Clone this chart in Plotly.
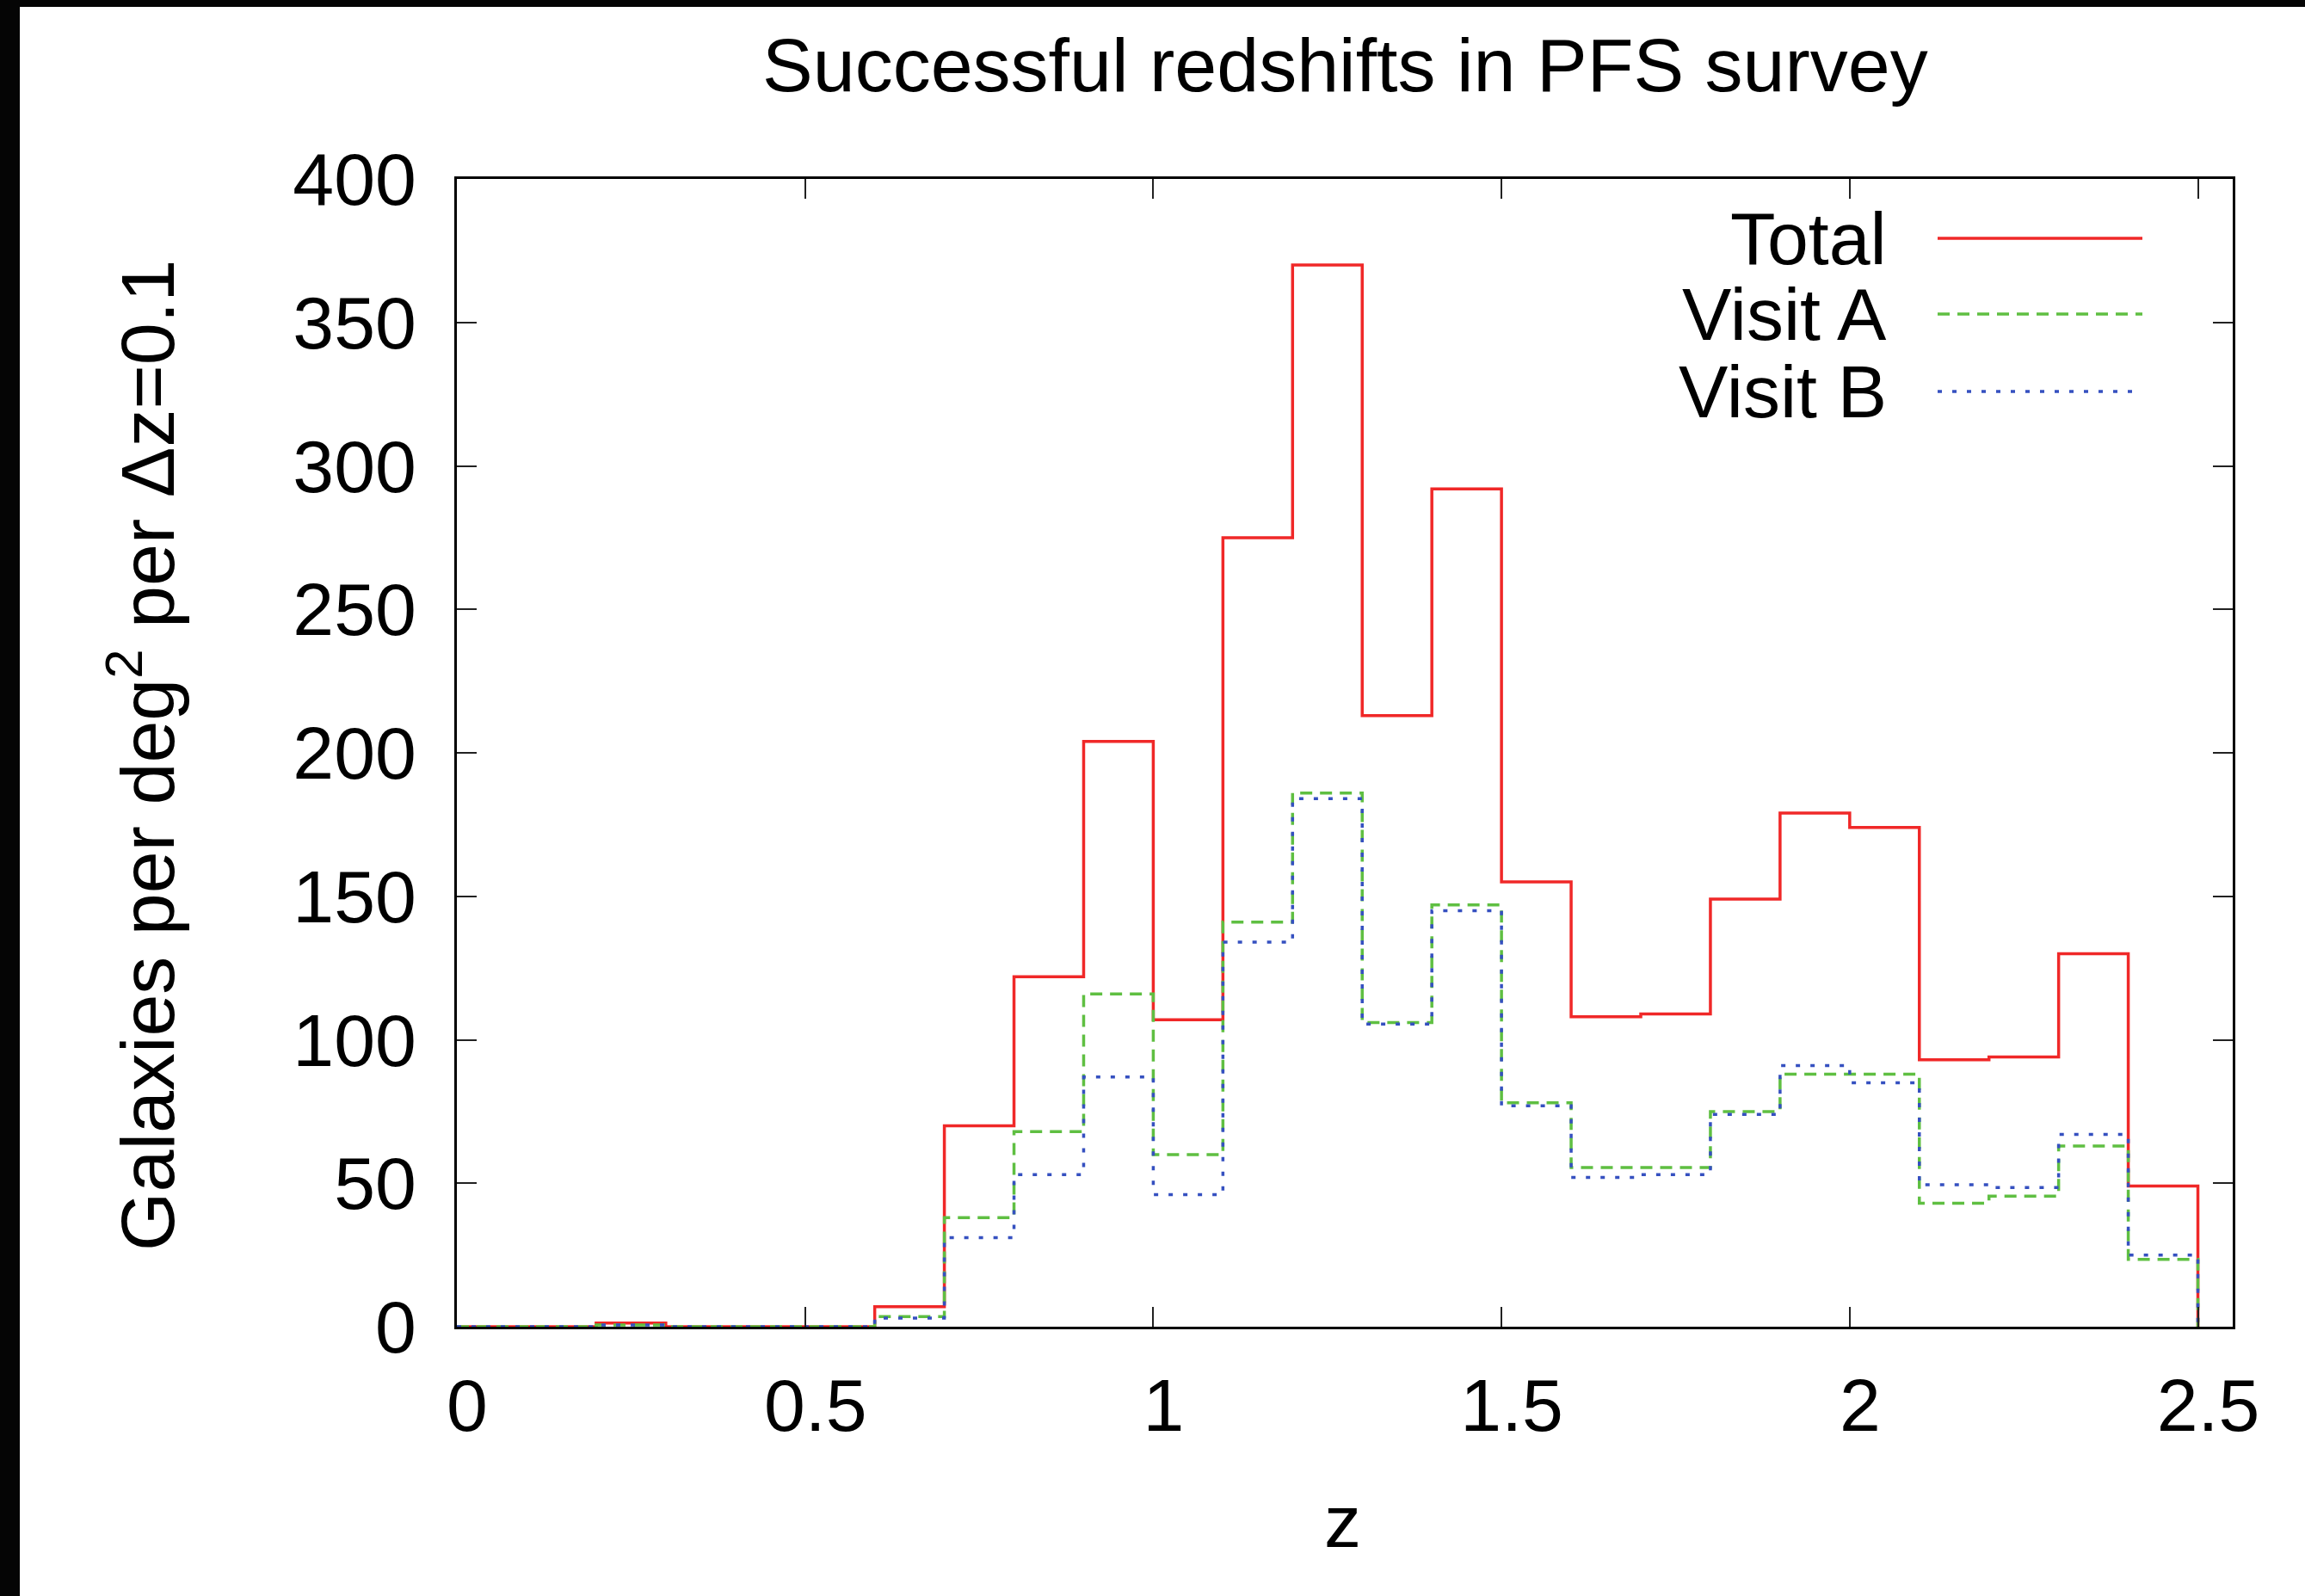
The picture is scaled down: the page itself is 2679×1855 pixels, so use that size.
import plotly.graph_objects as go

# Redshift bin edges (dz = 0.1) and counts per bin
z_edges = [0.0, 0.1, 0.2, 0.3, 0.4, 0.5, 0.6, 0.7, 0.8, 0.9, 1.0, 1.1, 1.2,
           1.3, 1.4, 1.5, 1.6, 1.7, 1.8, 1.9, 2.0, 2.1, 2.2, 2.3, 2.4, 2.5]

total = [0, 0, 1.3, 0, 0, 0, 7, 70, 122, 204, 107, 275, 370, 213, 292,
         155, 108, 109, 149, 179, 174, 93, 94, 130, 49]
visit_a = [0, 0, 0.6, 0, 0, 0, 3.5, 38, 68, 116, 60, 141, 186, 106, 147,
           78, 55.5, 55.5, 75, 88, 88, 43, 45.5, 63, 23.5]
visit_b = [0, 0, 0.6, 0, 0, 0, 3, 31, 53, 87, 46, 134, 184, 105.5, 145,
           77, 52, 53, 74, 91, 85, 49.5, 48.5, 67, 25]

series_names = ["Total", "Visit A", "Visit B"]
series_colors = ["#f02828", "#5fbf42", "#3550c0"]
series_dash = ["solid", "14px,9px", "5px,12px"]

x_ticks = [0, 0.5, 1, 1.5, 2, 2.5]
y_ticks = [0, 50, 100, 150, 200, 250, 300, 350, 400]

W, H = 2679, 1855
L, R, T, B = 531, 2595, 208, 1542   # plot-area box in pixels
FONT = "Liberation Sans, Arial, Helvetica, sans-serif"
FS = 86


def px(xp):
    return (xp - L) / (R - L)


def py(yp):
    return (B - yp) / (B - T)


fig = go.Figure()

for name, vals, col, dash in zip(series_names, [total, visit_a, visit_b],
                                 series_colors, series_dash):
    # step outline: each bin is flat over its width, closing down to zero at the end
    fig.add_trace(go.Scatter(
        x=z_edges, y=list(vals) + [0],
        mode="lines", name=name, line_shape="hv",
        line=dict(color=col, width=3.5, dash=dash),
        showlegend=False,
    ))

axis_common = dict(
    showline=True, linecolor="black", linewidth=3, mirror="ticks",
    ticks="inside", ticklen=23, tickwidth=2, tickcolor="#222",
    showgrid=False, zeroline=False,
    tickfont=dict(family=FONT, size=FS, color="black"),
)

fig.update_xaxes(range=[0, 2.55], tickvals=x_ticks,
                 ticktext=[f"{v:g}" for v in x_ticks],
                 ticklabelshift=12, ticklabelstandoff=15, **axis_common)
fig.update_yaxes(range=[0, 400], tickvals=y_ticks,
                 ticktext=[str(v) for v in y_ticks],
                 ticklabelstandoff=27, **axis_common)

annotations = [
    dict(text="Successful redshifts in PFS survey", x=0.5, y=py(75),
         xref="paper", yref="paper", xanchor="center", yanchor="middle",
         showarrow=False, font=dict(family=FONT, size=88, color="black")),
    dict(text="z", x=px(1560), y=py(1768),
         xref="paper", yref="paper", xanchor="center", yanchor="middle",
         showarrow=False, font=dict(family=FONT, size=FS, color="black")),
    dict(text="Galaxies per deg<sup>2</sup> per \u0394z=0.1", x=px(165), y=py(878),
         xref="paper", yref="paper", xanchor="center", yanchor="middle",
         textangle=-90, showarrow=False,
         font=dict(family=FONT, size=88, color="black")),
]

shapes = []
legend_rows = [277, 365, 455]
for name, col, dash, yr in zip(series_names, series_colors, series_dash, legend_rows):
    annotations.append(dict(
        text=name, x=px(2195), y=py(yr), xref="paper", yref="paper",
        xanchor="right", yanchor="middle", showarrow=False,
        font=dict(family=FONT, size=FS, color="black")))
    shapes.append(dict(
        type="line", xref="paper", yref="paper",
        x0=px(2252), x1=px(2490), y0=py(yr), y1=py(yr),
        line=dict(color=col, width=3.5, dash=dash)))

# dark strips along the top and left edges of the page
shapes.append(dict(type="rect", xref="paper", yref="paper", layer="above",
                   x0=px(0), x1=px(23), y0=py(H), y1=py(0),
                   fillcolor="#050505", line=dict(width=0)))
shapes.append(dict(type="rect", xref="paper", yref="paper", layer="above",
                   x0=px(0), x1=px(W), y0=py(8), y1=py(0),
                   fillcolor="#050505", line=dict(width=0)))

fig.update_layout(
    width=W, height=H,
    margin=dict(l=L, r=W - R, t=T, b=H - B, pad=0),
    paper_bgcolor="white", plot_bgcolor="white",
    annotations=annotations, shapes=shapes,
    showlegend=False,
)

fig.write_html("out.html")
